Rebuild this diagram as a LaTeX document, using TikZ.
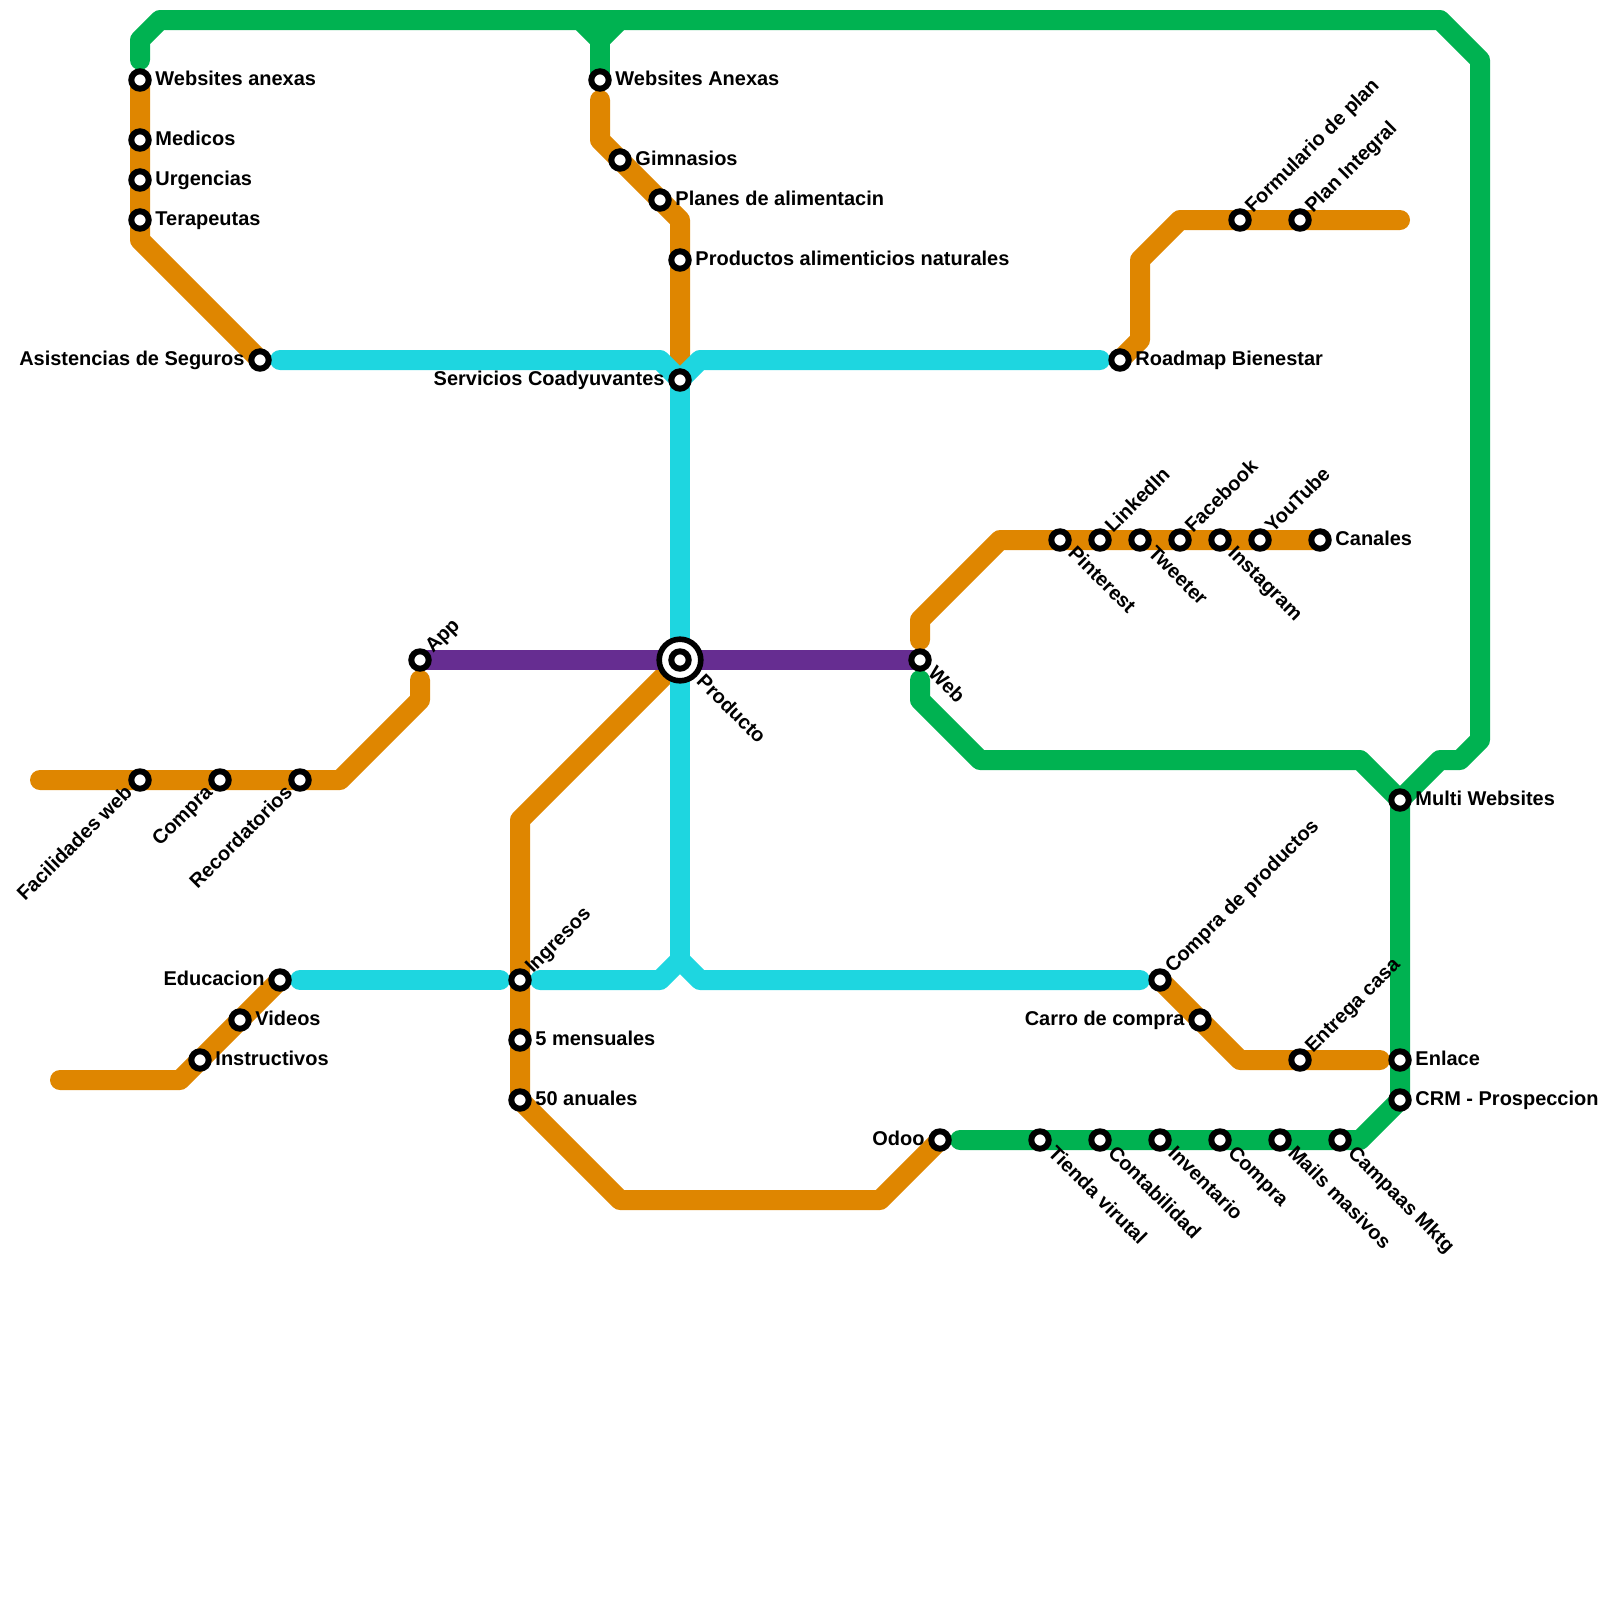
\documentclass[tikz,border=0pt]{standalone}
\usepackage{fontspec}
\setmainfont{Liberation Sans}
\usetikzlibrary{backgrounds}
\definecolor{lineGreen}{RGB}{0, 178, 81}
\definecolor{lineOrange}{RGB}{223, 134, 0}
\definecolor{lineCyan}{RGB}{30, 214, 224}
\definecolor{linePurple}{RGB}{102, 45, 145}
\tikzset{
  route/.style={line width=0.5cm, line cap=round, line join=round},
  stop/.style={circle, draw=black, fill=white, line width=0.15cm, minimum size=0.435cm, inner sep=0pt},
  hub/.style={circle, draw=black, fill=white, line width=0.14cm, minimum size=1.04cm, inner sep=0pt},
  lab/.style={font=\fontsize{14.2}{16}\bfseries\selectfont, inner sep=0pt, text height=10.4pt, text depth=0pt},
  labE/.style={lab, anchor=west, xshift=0.38cm, yshift=0.04cm},
  labW/.style={lab, anchor=east, xshift=-0.38cm, yshift=0.04cm},
  labNE/.style={lab, anchor=west, rotate=45, xshift=0.33cm, yshift=0.06cm},
  labSE/.style={lab, anchor=west, rotate=-45, xshift=0.37cm, yshift=0.06cm},
  labSW/.style={lab, anchor=east, rotate=45, xshift=-0.35cm, yshift=0.06cm},
}

\begin{document}
\begin{tikzpicture}[x=0.5cm, y=-0.5cm]
  \useasboundingbox (0,0) rectangle (80,80);

  % hub
  \node[hub] (productoHub) at (34,33) {};
  \node[stop] (producto) at (34,33) {};
  \node[labSE, xshift=0.3cm] (productoL) at (producto) {Producto};

  % upper left
  \node[stop] (anexas) at (7,4) {};
  \node[labE] (anexasL) at (anexas) {Websites anexas};
  \node[stop] (medicos) at (7,7) {};
  \node[labE] (medicosL) at (medicos) {Medicos};
  \node[stop] (urgencias) at (7,9) {};
  \node[labE] (urgenciasL) at (urgencias) {Urgencias};
  \node[stop] (terapeutas) at (7,11) {};
  \node[labE] (terapeutasL) at (terapeutas) {Terapeutas};
  \node[stop] (asistencias) at (13,18) {};
  \node[labW] (asistenciasL) at (asistencias) {Asistencias de Seguros};

  % upper middle
  \node[stop] (anexas2) at (30,4) {};
  \node[labE] (anexas2L) at (anexas2) {Websites Anexas};
  \node[stop] (gimnasios) at (31,8) {};
  \node[labE] (gimnasiosL) at (gimnasios) {Gimnasios};
  \node[stop] (planes) at (33,10) {};
  \node[labE] (planesL) at (planes) {Planes de alimentacin};
  \node[stop] (productos) at (34,13) {};
  \node[labE] (productosL) at (productos) {Productos alimenticios naturales};
  \node[stop] (servicios) at (34,19) {};
  \node[labW] (serviciosL) at (servicios) {Servicios Coadyuvantes};

  % upper right
  \node[stop] (roadmap) at (56,18) {};
  \node[labE] (roadmapL) at (roadmap) {Roadmap Bienestar};
  \node[stop] (formulario) at (62,11) {};
  \node[labNE] (formularioL) at (formulario) {Formulario de plan};
  \node[stop] (integral) at (65,11) {};
  \node[labNE] (integralL) at (integral) {Plan Integral};

  % canales
  \node[stop] (pinterest) at (53,27) {};
  \node[labSE] (pinterestL) at (pinterest) {Pinterest};
  \node[stop] (linkedin) at (55,27) {};
  \node[labNE] (linkedinL) at (linkedin) {LinkedIn};
  \node[stop] (tweeter) at (57,27) {};
  \node[labSE] (tweeterL) at (tweeter) {Tweeter};
  \node[stop] (facebook) at (59,27) {};
  \node[labNE] (facebookL) at (facebook) {Facebook};
  \node[stop] (instagram) at (61,27) {};
  \node[labSE] (instagramL) at (instagram) {Instagram};
  \node[stop] (youtube) at (63,27) {};
  \node[labNE] (youtubeL) at (youtube) {YouTube};
  \node[stop] (canales) at (66,27) {};
  \node[labE] (canalesL) at (canales) {Canales};

  % app and web
  \node[stop] (app) at (21,33) {};
  \node[labNE] (appL) at (app) {App};
  \node[stop] (web) at (46,33) {};
  \node[labSE] (webL) at (web) {Web};

  % lower left
  \node[stop] (facilidades) at (7,39) {};
  \node[labSW] (facilidadesL) at (facilidades) {Facilidades web};
  \node[stop] (compraApp) at (11,39) {};
  \node[labSW] (compraAppL) at (compraApp) {Compra};
  \node[stop] (recordatorios) at (15,39) {};
  \node[labSW] (recordatoriosL) at (recordatorios) {Recordatorios};
  \node[stop] (educacion) at (14,49) {};
  \node[labW] (educacionL) at (educacion) {Educacion};
  \node[stop] (videos) at (12,51) {};
  \node[labE] (videosL) at (videos) {Videos};
  \node[stop] (instructivos) at (10,53) {};
  \node[labE] (instructivosL) at (instructivos) {Instructivos};

  % ingresos
  \node[stop] (ingresos) at (26,49) {};
  \node[labNE] (ingresosL) at (ingresos) {Ingresos};
  \node[stop] (mensuales) at (26,52) {};
  \node[labE] (mensualesL) at (mensuales) {5 mensuales};
  \node[stop] (anuales) at (26,55) {};
  \node[labE] (anualesL) at (anuales) {50 anuales};
  \node[stop] (odoo) at (47,57) {};
  \node[labW] (odooL) at (odoo) {Odoo};

  % lower right
  \node[stop] (tienda) at (52,57) {};
  \node[labSE] (tiendaL) at (tienda) {Tienda virutal};
  \node[stop] (contabilidad) at (55,57) {};
  \node[labSE] (contabilidadL) at (contabilidad) {Contabilidad};
  \node[stop] (inventario) at (58,57) {};
  \node[labSE] (inventarioL) at (inventario) {Inventario};
  \node[stop] (compraOdoo) at (61,57) {};
  \node[labSE] (compraOdooL) at (compraOdoo) {Compra};
  \node[stop] (mails) at (64,57) {};
  \node[labSE] (mailsL) at (mails) {Mails masivos};
  \node[stop] (campanas) at (67,57) {};
  \node[labSE] (campanasL) at (campanas) {Campaas Mktg};
  \node[stop] (compraProd) at (58,49) {};
  \node[labNE] (compraProdL) at (compraProd) {Compra de productos};
  \node[stop] (carro) at (60,51) {};
  \node[labW] (carroL) at (carro) {Carro de compra};
  \node[stop] (entrega) at (65,53) {};
  \node[labNE] (entregaL) at (entrega) {Entrega casa};
  \node[stop] (multi) at (70,40) {};
  \node[labE] (multiL) at (multi) {Multi Websites};
  \node[stop] (enlace) at (70,53) {};
  \node[labE] (enlaceL) at (enlace) {Enlace};
  \node[stop] (crm) at (70,55) {};
  \node[labE] (crmL) at (crm) {CRM - Prospeccion};

  % free ends
  \coordinate (greenAnexas) at (7,3);
  \coordinate (orangeTop) at (30,5);
  \coordinate (orangeRight) at (70,11);
  \coordinate (orangeCanal) at (46,32);
  \coordinate (orangeApp) at (21,34);
  \coordinate (orangeFar) at (2,39);
  \coordinate (orangeEdu) at (3,54);
  \coordinate (orangeEnlace) at (69,53);
  \coordinate (greenWeb) at (46,34);
  \coordinate (greenOdoo) at (48,57);
  \coordinate (cyanA) at (14,18);
  \coordinate (cyanB) at (55,18);
  \coordinate (cyanC) at (15,49);
  \coordinate (cyanD) at (25,49);
  \coordinate (cyanE) at (27,49);
  \coordinate (cyanF) at (57,49);

  \begin{scope}[on background layer]
    \draw[route, lineGreen] (greenAnexas) -- (7,2) -- (8,1) -- (72,1) -- (74,3) -- (74,37) -- (73,38) -- (72,38) -- (70,40) -- (crm.center) -- (68,57) -- (greenOdoo);
    \draw[route, lineGreen] (29,1) -- (30,2) -- (31,1);
    \draw[route, lineGreen] (30,2) -- (anexas2.center);
    \draw[route, lineGreen] (greenWeb) -- (46,35) -- (49,38) -- (68,38) -- (multi.center);

    \draw[route, lineOrange] (anexas.center) -- (7,12) -- (asistencias.center);
    \draw[route, lineOrange] (orangeTop) -- (30,7) -- (34,11) -- (34,18);
    \draw[route, lineOrange] (roadmap.center) -- (57,17) -- (57,13) -- (59,11) -- (orangeRight);
    \draw[route, lineOrange] (orangeCanal) -- (46,31) -- (50,27) -- (canales.center);
    \draw[route, lineOrange] (orangeApp) -- (21,35) -- (17,39) -- (orangeFar);
    \draw[route, lineOrange] (educacion.center) -- (9,54) -- (orangeEdu);
    \draw[route, lineOrange] (producto.center) -- (26,41) -- (26,55) -- (31,60) -- (44,60) -- (odoo.center);
    \draw[route, lineOrange] (compraProd.center) -- (62,53) -- (orangeEnlace);

    \draw[route, lineCyan] (cyanA) -- (33,18) -- (34,19) -- (35,18) -- (cyanB);
    \draw[route, lineCyan] (servicios.center) -- (34,48);
    \draw[route, lineCyan] (cyanC) -- (cyanD);
    \draw[route, lineCyan] (cyanE) -- (33,49) -- (34,48) -- (35,49) -- (cyanF);

    \draw[route, linePurple] (app.center) -- (producto.center) -- (web.center);
  \end{scope}
\end{tikzpicture}
\end{document}
